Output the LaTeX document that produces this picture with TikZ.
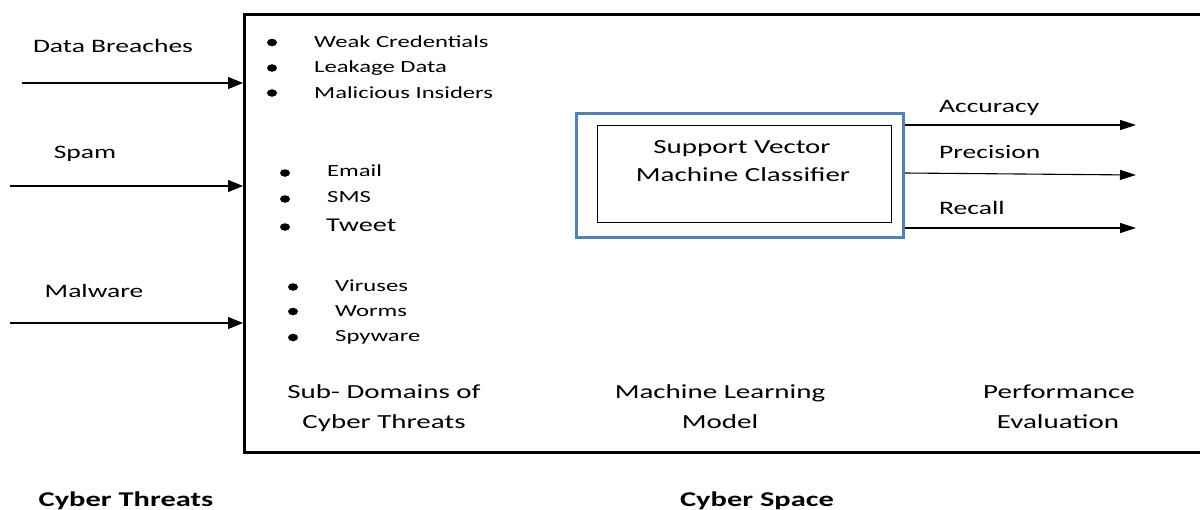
\documentclass[tikz,border=0pt]{standalone}
\usepackage{fontspec}
\setmainfont{Carlito}[FakeStretch=1.45]
\usetikzlibrary{arrows.meta,shapes.geometric}
\definecolor{frameblue}{RGB}{79,129,189}
\begin{document}
\begin{tikzpicture}[x=1pt,y=-1pt,
  lbl/.style={inner sep=0pt, anchor=base, font=\fontsize{19}{22}\selectfont},
  head/.style={inner sep=0pt, anchor=base, font=\fontsize{20}{24}\selectfont},
  title/.style={inner sep=0pt, anchor=base, font=\bfseries\fontsize{21}{24}\selectfont},
  item/.style={inner sep=0pt, anchor=base west, font=\fontsize{17}{20}\selectfont},
  dot/.style={ellipse, fill=black, inner sep=0pt, minimum width=10pt, minimum height=7.5pt},
  feed/.style={line width=1.1pt, -{Triangle[length=15pt,width=12pt]}},
  metric/.style={line width=1.1pt, -{Triangle[length=16pt,width=10pt]}},
]
\useasboundingbox (0,0) rectangle (1200,509);

% cyber space frame (runs past the right edge)
\node[draw, line width=2.6pt, minimum width=990pt, minimum height=438pt,
      anchor=north west, inner sep=0pt] (space) at (243,13) {};

% incoming cyber threats
\node[lbl] (breach) at (113,52) {Data Breaches};
\node[lbl] (spam) at (85,158) {Spam};
\node[lbl] (malware) at (94,297) {Malware};
\coordinate (in1) at (22,83);
\coordinate (in2) at (10,186);
\coordinate (in3) at (10,323);
\draw[feed] (in1) -- (in1 -| space.west);
\draw[feed] (in2) -- (in2 -| space.west);
\draw[feed] (in3) -- (in3 -| space.west);

% sub-domains: data breaches
\node[dot] (d1) at (272,42.5) {};
\node[dot] (d2) at (272,68) {};
\node[dot] (d3) at (272,93) {};
\node[item] (w1) at (314,47.5) {Weak Credentials};
\node[item] (w2) at (314,72.7) {Leakage Data};
\node[item] (w3) at (314,98.3) {Malicious Insiders};

% sub-domains: spam
\node[dot] (s1) at (285,173) {};
\node[dot] (s2) at (285,199) {};
\node[dot] (s3) at (285,227) {};
\node[item] (e1) at (327,176.7) {Email};
\node[item] (e2) at (327,202) {SMS};
\node[item, font=\fontsize{19.5}{22}\selectfont] (e3) at (326,231.7) {Tweet};

% sub-domains: malware
\node[dot] (m1) at (293,287) {};
\node[dot] (m2) at (293,311.5) {};
\node[dot] (m3) at (293,337.5) {};
\node[item] (v1) at (335,291.7) {Viruses};
\node[item] (v2) at (335,316.7) {Worms};
\node[item] (v3) at (335,341.7) {Spyware};

% machine learning model
\node[draw=frameblue, line width=3pt, minimum width=327pt, minimum height=124pt,
      inner sep=0pt] (ml) at (740,175) {};
\node[draw, line width=0.8pt, minimum width=294pt, minimum height=97pt,
      inner sep=0pt] (svm) at (744,173.5) {};
\node[head] (svm1) at (742,153) {Support Vector};
\node[head] (svm2) at (743,181) {Machine Classifier};

% performance metrics
\coordinate (acc) at (1136,125);
\coordinate (prec) at (1136,175);
\coordinate (rec) at (1136,228);
\draw[metric] (ml.east |- acc) -- (acc);
\draw[metric] ([yshift=2pt]ml.east |- prec) -- (prec);
\draw[metric] (ml.east |- rec) -- (rec);
\node[lbl, anchor=base west] (accl) at (939,112) {Accuracy};
\node[lbl, anchor=base west] (precl) at (939,158) {Precision};
\node[lbl, anchor=base west] (recl) at (939,214) {Recall};

% column captions
\node[head] (cap1a) at (384,398) {Sub- Domains of};
\node[head] (cap1b) at (384,428) {Cyber Threats};
\node[head] (cap2a) at (720,398) {Machine Learning};
\node[head] (cap2b) at (720,428) {Model};
\node[head] (cap3a) at (1059,398) {Performance};
\node[head] (cap3b) at (1058,428) {Evaluation};

% bottom titles
\node[title] (threats) at (126,506) {Cyber Threats};
\node[title] (cspace) at (757,506) {Cyber Space};
\end{tikzpicture}
\end{document}
